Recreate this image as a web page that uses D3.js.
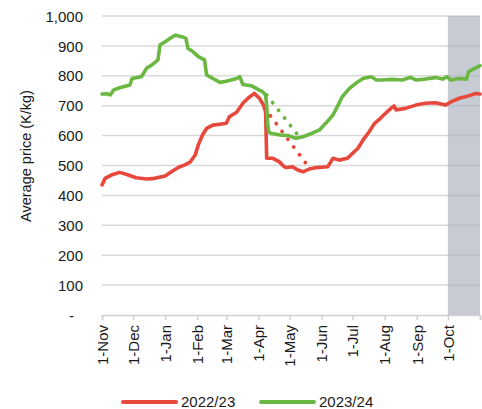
<!DOCTYPE html>
<html>
<head>
<meta charset="utf-8">
<script src="https://cdn.jsdelivr.net/npm/d3@7"></script>
<style>
  body { margin: 0; background: #fff; }
  text { font-family: "Liberation Sans", Arial, sans-serif; fill: #1a1a1a; }
</style>
</head>
<body>
<div id="graph"></div>
<script>
// Average price, days counted from 1 November
const monthLabels = ['1-Nov', '1-Dec', '1-Jan', '1-Feb', '1-Mar', '1-Apr', '1-May',
  '1-Jun', '1-Jul', '1-Aug', '1-Sep', '1-Oct', ''];
const monthDays = [0, 30, 61, 92, 120, 151, 181, 212, 242, 273, 304, 334, 365];
const yTicks = [0, 100, 200, 300, 400, 500, 600, 700, 800, 900, 1000];

// 2022/23
const redDays = [0, 3, 9, 17, 24, 33, 43, 51, 61, 67, 74, 80, 85, 90, 93, 97, 101, 107, 114,
  120, 123, 130, 136, 141, 147, 152, 156, 158, 159, 165, 171, 176, 178, 184, 189, 194, 200,
  207, 218, 223, 229, 237, 242, 247, 252, 258, 263, 268, 272, 279, 282, 284, 293, 303, 312,
  322, 332, 337, 345, 353, 361, 365];
const redValues = [435, 457, 468, 477, 470, 459, 455, 457, 465, 479, 494, 502, 511, 535, 569,
  602, 624, 635, 638, 641, 663, 678, 708, 725, 741, 725, 702, 680, 524, 524, 513, 496, 493,
  496, 485, 479, 488, 493, 496, 524, 518, 524, 541, 557, 585, 613, 640, 655, 669, 691, 699,
  686, 691, 702, 708, 710, 702, 713, 725, 732, 741, 739];

// 2023/24
const greenDays = [0, 5, 8, 11, 17, 27, 29, 38, 43, 48, 54, 56, 61, 67, 71, 77, 81, 83, 88,
  93, 99, 101, 107, 114, 120, 130, 133, 136, 144, 152, 155, 158, 159, 160, 161, 163, 172,
  180, 187, 194, 203, 210, 216, 223, 228, 232, 239, 245, 252, 260, 265, 270, 280, 290, 298,
  303, 312, 322, 329, 333, 337, 345, 352, 354, 359, 365];
const greenValues = [739, 740, 736, 752, 760, 769, 791, 797, 825, 836, 853, 903, 914, 928,
  936, 931, 925, 892, 880, 864, 853, 803, 791, 778, 782, 791, 797, 771, 767, 752, 747, 736,
  700, 640, 613, 608, 602, 600, 591, 596, 608, 619, 641, 669, 702, 730, 758, 775, 791, 797,
  786, 786, 788, 786, 795, 786, 789, 794, 789, 797, 786, 791, 789, 814, 823, 834];

// dotted links across the April gap
const redGapDays = [157, 200];
const redGapValues = [692, 493];
const greenGapDays = [159, 190];
const greenGapValues = [736, 598];

// shaded period: 1-Oct to end
const shadeDays = [334, 365];

const seriesNames = ['2022/23', '2023/24'];
const colors = ['#e8473b', '#6ab842'];

const width = 482;
const height = 409;

const x = d3.scaleLinear().domain([0, 365]).range([102, 480]);
const y = d3.scaleLinear().domain([0, 1000]).range([315, 16]);

const svg = d3.select('#graph')
    .append('svg')
    .attr('width', width)
    .attr('height', height);

// gridlines
svg.append('g')
    .selectAll('line')
    .data(yTicks.filter(d => d > 0))
    .enter()
    .append('line')
    .attr('x1', x(0))
    .attr('x2', x(365))
    .attr('y1', d => y(d))
    .attr('y2', d => y(d))
    .attr('stroke', '#d9d9d9')
    .attr('stroke-width', 1.5);

// shaded period
svg.append('rect')
    .attr('x', x(shadeDays[0]))
    .attr('y', y(1000))
    .attr('width', x(shadeDays[1]) - x(shadeDays[0]))
    .attr('height', y(0) - y(1000))
    .attr('fill', '#a9afbb')
    .attr('fill-opacity', 0.65);

// y axis labels
const yAxis = d3.axisLeft(y)
    .tickValues(yTicks)
    .tickSize(0)
    .tickPadding(19)
    .tickFormat(d => d === 0 ? '-' : d3.format(',')(d));
svg.append('g')
    .attr('transform', `translate(${x(0)},0)`)
    .call(yAxis)
    .call(g => g.select('.domain').remove())
    .call(g => g.selectAll('text')
        .style('font-size', '15px')
        .attr('dy', '0.34em')
        .attr('dx', d => d === 0 ? -9 : 0));

// x axis
const xAxis = d3.axisBottom(x)
    .tickValues(monthDays)
    .tickSize(5)
    .tickPadding(0)
    .tickFormat((d, i) => monthLabels[i]);
svg.append('g')
    .attr('transform', `translate(0,${y(0)})`)
    .call(xAxis)
    .call(g => g.select('.domain').attr('stroke', '#d0d0d0').attr('stroke-width', 1.5))
    .call(g => g.selectAll('.tick line').attr('stroke', '#d0d0d0').attr('stroke-width', 1.5))
    .call(g => g.selectAll('text')
        .style('font-size', '15px')
        .attr('text-anchor', 'end')
        .attr('transform', 'rotate(-90)')
        .attr('x', -10)
        .attr('y', 0)
        .attr('dy', '0.35em'));

// y axis title
svg.append('text')
    .attr('transform', 'translate(31,156) rotate(-90)')
    .attr('text-anchor', 'middle')
    .style('font-size', '14.5px')
    .text('Average price (K/kg)');

const line = d3.line()
    .x(d => x(d[0]))
    .y(d => y(d[1]));

const series = [
  d3.zip(redDays, redValues),
  d3.zip(greenDays, greenValues)
];
const gaps = [
  d3.zip(redGapDays, redGapValues),
  d3.zip(greenGapDays, greenGapValues)
];

svg.append('g')
    .selectAll('path')
    .data(gaps)
    .enter()
    .append('path')
    .attr('d', line)
    .attr('fill', 'none')
    .attr('stroke', (d, i) => colors[i])
    .attr('stroke-width', 3.8)
    .attr('stroke-linecap', 'round')
    .attr('stroke-dasharray', '0.1 9.6');

svg.append('g')
    .selectAll('path')
    .data(series)
    .enter()
    .append('path')
    .attr('d', line)
    .attr('fill', 'none')
    .attr('stroke', (d, i) => colors[i])
    .attr('stroke-width', 3.6)
    .attr('stroke-linejoin', 'round')
    .attr('stroke-linecap', 'round');

// legend
const legendX = [123, 261];
const legend = svg.append('g')
    .selectAll('g')
    .data(seriesNames)
    .enter()
    .append('g')
    .attr('transform', (d, i) => `translate(${legendX[i]},402)`);
legend.append('line')
    .attr('x1', 0)
    .attr('x2', 53)
    .attr('stroke', (d, i) => colors[i])
    .attr('stroke-width', 4)
    .attr('stroke-linecap', 'round');
legend.append('text')
    .attr('x', 58)
    .attr('dy', '0.35em')
    .style('font-size', '15px')
    .text(d => d);
</script>
</body>
</html>
